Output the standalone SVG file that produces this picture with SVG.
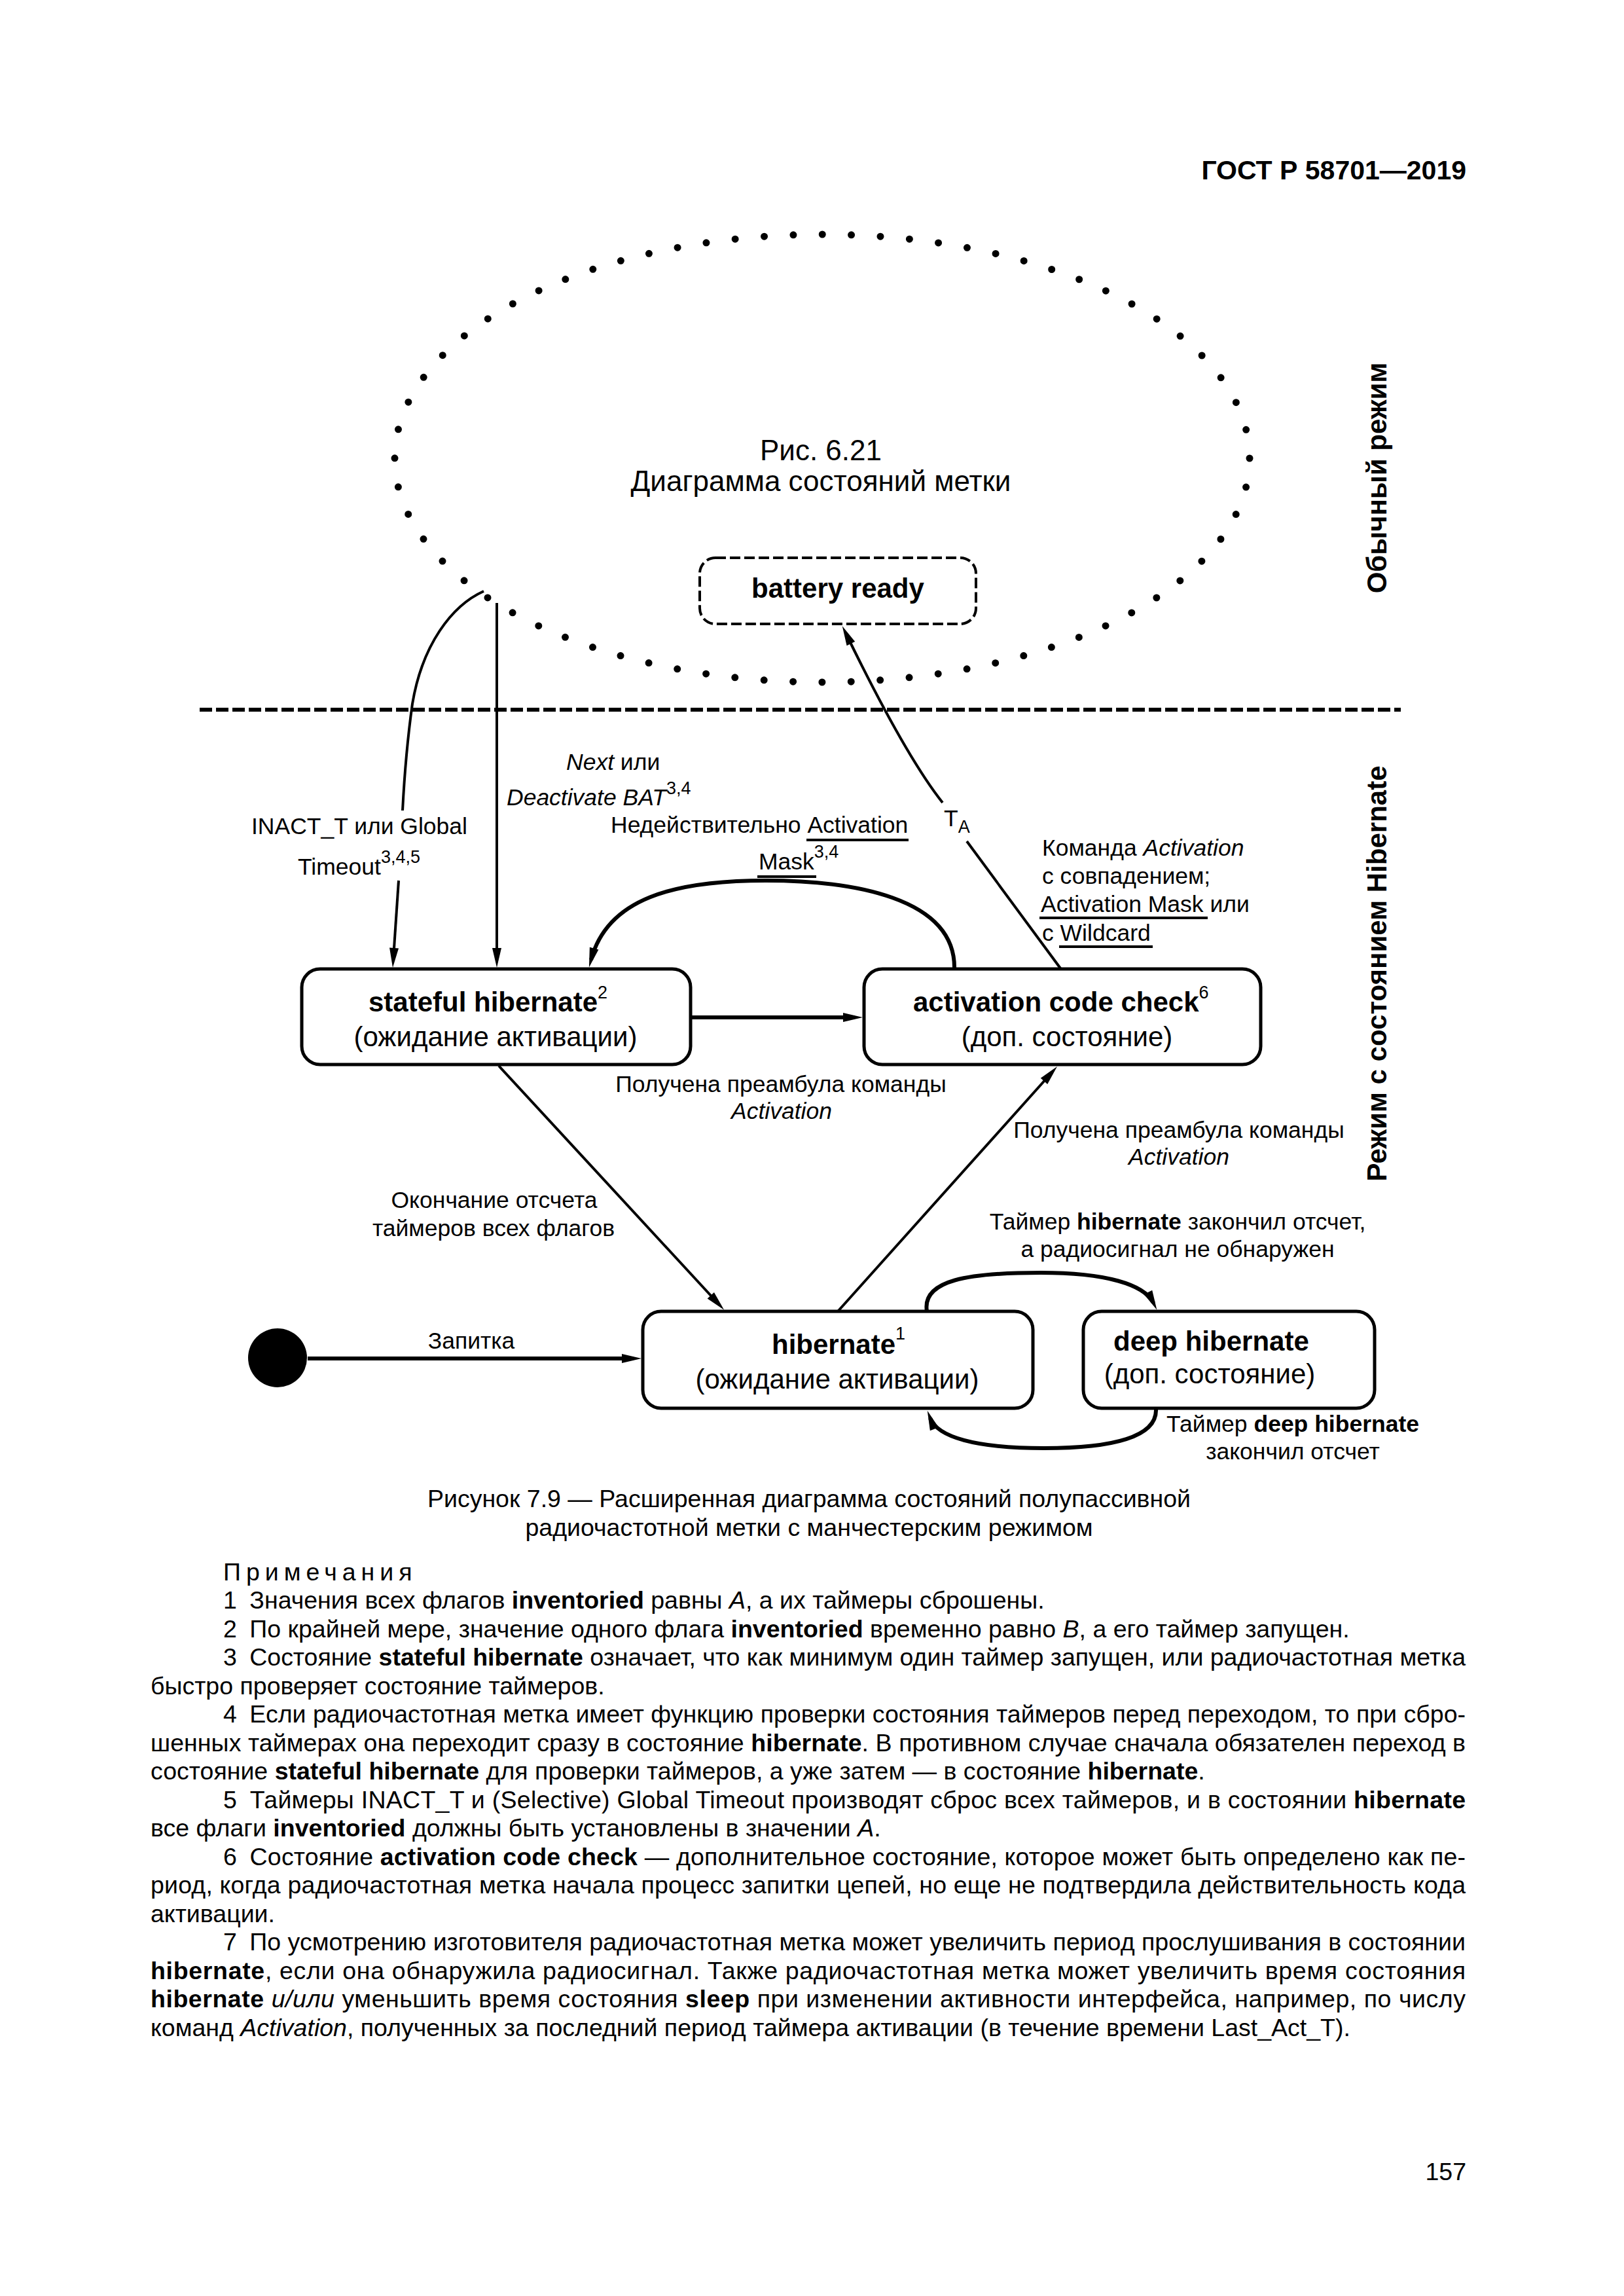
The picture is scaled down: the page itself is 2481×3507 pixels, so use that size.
<svg xmlns="http://www.w3.org/2000/svg" width="2481" height="3507" viewBox="0 0 2481 3507">
<style>
text { font-family: "Liberation Sans", Arial, "DejaVu Sans", sans-serif; fill: #000; }
.hdr { font-size: 41px; font-weight: bold; }
.ttl { font-size: 44px; }
.nm { font-size: 42px; font-weight: bold; }
.sb { font-size: 42px; }
.lb { font-size: 35.5px; }
.sup { font-size: 27px; font-weight: normal; font-style: normal; }
.mode { font-size: 42px; font-weight: bold; }
.n { font-size: 37.5px; }
.b { font-weight: bold; }
.i { font-style: italic; }
.box { fill: #fff; stroke: #000; stroke-width: 5; }
.dbox { fill: #fff; stroke: #000; stroke-width: 4; stroke-dasharray: 16 6; }
.c { fill: none; stroke: #000; stroke-width: 4; }
.c6 { stroke-width: 6; }
.ul { stroke: #000; stroke-width: 4; }
</style>
<defs>
<marker id="ah" markerUnits="userSpaceOnUse" markerWidth="32" markerHeight="16" refX="18" refY="8" orient="auto" overflow="visible">
<path d="M0,1 L30,8 L0,15 z" fill="#000"/>
</marker>
</defs>
<rect width="2481" height="3507" fill="#fff"/>

<text class="hdr" x="2240" y="274" text-anchor="end">ГОСТ Р 58701—2019</text>

<g id="normal-mode-ellipse">
<ellipse cx="1256" cy="700" rx="653" ry="342" fill="none" stroke="#000" stroke-width="11" stroke-linecap="round" stroke-dasharray="0 44.48"/>
<text class="ttl" x="1254" y="703" text-anchor="middle">Рис. 6.21</text>
<text class="ttl" x="1254" y="750" text-anchor="middle">Диаграмма состояний метки</text>
</g>

<g id="battery-ready">
<rect class="dbox" x="1069" y="852" width="422" height="101" rx="24"/>
<text class="nm" x="1280" y="913" text-anchor="middle">battery ready</text>
</g>

<g id="separator">
<line x1="305" y1="1084" x2="2140" y2="1084" stroke="#000" stroke-width="6" stroke-dasharray="19 6"/>
</g>

<g id="mode-labels">
<text class="mode" transform="translate(2118,730) rotate(-90)" text-anchor="middle">Обычный режим</text>
<text class="mode" transform="translate(2118,1487) rotate(-90)" text-anchor="middle">Режим с состоянием Hibernate</text>
</g>

<g id="stateful-hibernate">
<rect class="box" x="461" y="1480" width="594" height="146" rx="28"/>
<text class="nm" x="563" y="1545">stateful hibernate<tspan class="sup" dy="-20">2</tspan></text>
<text class="sb" x="757" y="1598" text-anchor="middle">(ожидание активации)</text>
</g>

<g id="activation-code-check">
<rect class="box" x="1320" y="1480" width="606" height="146" rx="28"/>
<text class="nm" x="1395" y="1545">activation code check<tspan class="sup" dy="-20">6</tspan></text>
<text class="sb" x="1630" y="1598" text-anchor="middle">(доп. состояние)</text>
</g>

<g id="hibernate">
<rect class="box" x="982" y="2003" width="596" height="148" rx="28"/>
<text class="nm" x="1179" y="2068">hibernate<tspan class="sup" dy="-22">1</tspan></text>
<text class="sb" x="1279" y="2121" text-anchor="middle">(ожидание активации)</text>
</g>

<g id="deep-hibernate">
<rect class="box" x="1655" y="2003" width="445" height="148" rx="28"/>
<text class="nm" x="1701" y="2063">deep hibernate</text>
<text class="sb" x="1848" y="2113" text-anchor="middle">(доп. состояние)</text>
</g>

<g id="initial-state">
<circle cx="424" cy="2074" r="45" fill="#000"/>
</g>

<g id="connectors">
<path class="c" d="M739,903 C690,925 645,985 630,1075 C623,1125 618,1180 615,1238"/>
<path class="c" d="M609,1345 L600.8,1466" marker-end="url(#ah)"/>
<path class="c" d="M759,921 L759,1466" marker-end="url(#ah)"/>
<path class="c c6" d="M1458,1480 C1460,1370 1300,1345 1170,1345 C1030,1345 928,1372 903,1466" marker-end="url(#ah)"/>
<path class="c c6" d="M1056,1554 L1306,1554" marker-end="url(#ah)"/>
<path class="c" d="M1620,1479 L1477,1285"/>
<path class="c" d="M1440,1226 Q1383,1154 1292,967" marker-end="url(#ah)"/>
<path class="c" d="M762,1628 L1098,1992" marker-end="url(#ah)"/>
<path class="c" d="M1280,2003 L1607,1638" marker-end="url(#ah)"/>
<path class="c c6" d="M1416,2003 C1408,1955 1480,1944 1590,1944 C1690,1944 1748,1962 1762,1990" marker-end="url(#ah)"/>
<path class="c c6" d="M1766,2152 C1768,2195 1700,2212 1595,2212 C1490,2212 1432,2195 1421,2166" marker-end="url(#ah)"/>
<path class="c c6" d="M470,2075 L968,2075" marker-end="url(#ah)"/>
</g>

<g id="connector-labels">
<text class="lb" x="549" y="1274" text-anchor="middle">INACT_T или Global</text>
<text class="lb" x="455" y="1336">Timeout<tspan class="sup" dy="-18">3,4,5</tspan></text>
<text class="lb" x="865" y="1176"><tspan class="i">Next</tspan> или</text>
<text class="lb" x="774" y="1230"><tspan class="i">Deactivate BAT</tspan><tspan class="sup" dy="-17">3,4</tspan></text>
<text class="lb" x="933" y="1272">Недействительно Activation</text>
<line class="ul" x1="1232" y1="1283" x2="1388" y2="1283"/>
<text class="lb" x="1159" y="1328">Mask<tspan class="sup" dy="-18">3,4</tspan></text>
<line class="ul" x1="1157" y1="1339" x2="1247" y2="1339"/>
<text class="lb" x="1442" y="1262">T<tspan class="sup" dy="10">A</tspan></text>
<text class="lb" x="1592" y="1307">Команда <tspan class="i">Activation</tspan></text>
<text class="lb" x="1592" y="1350">с совпадением;</text>
<text class="lb" x="1590" y="1393">Activation Mask или</text>
<line class="ul" x1="1588" y1="1402" x2="1845" y2="1402"/>
<text class="lb" x="1592" y="1437">с Wildcard</text>
<line class="ul" x1="1618" y1="1446" x2="1761" y2="1446"/>
<text class="lb" x="1193" y="1668" text-anchor="middle">Получена преамбула команды</text>
<text class="lb i" x="1194" y="1709" text-anchor="middle">Activation</text>
<text class="lb" x="1801" y="1738" text-anchor="middle">Получена преамбула команды</text>
<text class="lb i" x="1801" y="1779" text-anchor="middle">Activation</text>
<text class="lb" x="755" y="1845" text-anchor="middle">Окончание отсчета</text>
<text class="lb" x="754" y="1888" text-anchor="middle">таймеров всех флагов</text>
<text class="lb" x="1799" y="1878" text-anchor="middle">Таймер <tspan class="b">hibernate</tspan> закончил отсчет,</text>
<text class="lb" x="1799" y="1920" text-anchor="middle">а радиосигнал не обнаружен</text>
<text class="lb" x="720" y="2060" text-anchor="middle">Запитка</text>
<text class="lb" x="1975" y="2187" text-anchor="middle">Таймер <tspan class="b">deep hibernate</tspan></text>
<text class="lb" x="1975" y="2229" text-anchor="middle">закончил отсчет</text>
</g>

<g id="page-text">
<text class="n" x="1236" y="2302" text-anchor="middle">Рисунок 7.9 — Расширенная диаграмма состояний полупассивной</text>
<text class="n" x="1236" y="2346" text-anchor="middle">радиочастотной метки с манчестерским режимом</text>
<text class="n" x="341" y="2414" letter-spacing="8">Примечания</text>
<text class="n" x="341" y="2457">1 <tspan dx="9">Значения</tspan> всех флагов <tspan class="b">inventoried</tspan> равны <tspan class="i">A</tspan>, а их таймеры сброшены.</text>
<text class="n" x="341" y="2501">2 <tspan dx="9">По</tspan> крайней мере, значение одного флага <tspan class="b">inventoried</tspan> временно равно <tspan class="i">B</tspan>, а его таймер запущен.</text>
<text class="n" x="341" y="2544" textLength="1898" lengthAdjust="spacing">3 <tspan dx="9">Состояние</tspan> <tspan class="b">stateful hibernate</tspan> означает, что как минимум один таймер запущен, или радиочастотная метка</text>
<text class="n" x="230" y="2588">быстро проверяет состояние таймеров.</text>
<text class="n" x="341" y="2631" textLength="1898" lengthAdjust="spacing">4 <tspan dx="9">Если</tspan> радиочастотная метка имеет функцию проверки состояния таймеров перед переходом, то при сбро-</text>
<text class="n" x="230" y="2675" textLength="2009" lengthAdjust="spacing">шенных таймерах она переходит сразу в состояние <tspan class="b">hibernate</tspan>. В противном случае сначала обязателен переход в</text>
<text class="n" x="230" y="2718">состояние <tspan class="b">stateful hibernate</tspan> для проверки таймеров, а уже затем — в состояние <tspan class="b">hibernate</tspan>.</text>
<text class="n" x="341" y="2762" textLength="1898" lengthAdjust="spacing">5 <tspan dx="9">Таймеры</tspan> INACT_T и (Selective) Global Timeout производят сброс всех таймеров, и в состоянии <tspan class="b">hibernate</tspan></text>
<text class="n" x="230" y="2805">все флаги <tspan class="b">inventoried</tspan> должны быть установлены в значении <tspan class="i">A</tspan>.</text>
<text class="n" x="341" y="2849" textLength="1898" lengthAdjust="spacing">6 <tspan dx="9">Состояние</tspan> <tspan class="b">activation code check</tspan> — дополнительное состояние, которое может быть определено как пе-</text>
<text class="n" x="230" y="2892" textLength="2009" lengthAdjust="spacing">риод, когда радиочастотная метка начала процесс запитки цепей, но еще не подтвердила действительность кода</text>
<text class="n" x="230" y="2936">активации.</text>
<text class="n" x="341" y="2979" textLength="1898" lengthAdjust="spacing">7 <tspan dx="9">По</tspan> усмотрению изготовителя радиочастотная метка может увеличить период прослушивания в состоянии</text>
<text class="n" x="230" y="3023" textLength="2009" lengthAdjust="spacing"><tspan class="b">hibernate</tspan>, если она обнаружила радиосигнал. Также радиочастотная метка может увеличить время состояния</text>
<text class="n" x="230" y="3066" textLength="2009" lengthAdjust="spacing"><tspan class="b">hibernate</tspan> <tspan class="i">и/или</tspan> уменьшить время состояния <tspan class="b">sleep</tspan> при изменении активности интерфейса, например, по числу</text>
<text class="n" x="230" y="3110">команд <tspan class="i">Activation</tspan>, полученных за последний период таймера активации (в течение времени Last_Act_T).</text>
<text class="n" x="2240" y="3330" text-anchor="end">157</text>
</g>
</svg>
